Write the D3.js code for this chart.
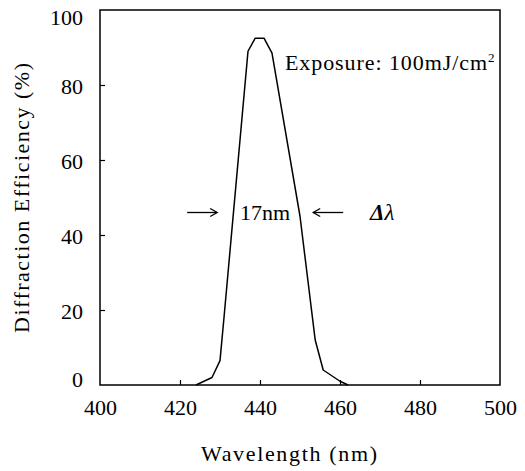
<!DOCTYPE html>
<html><head><meta charset="utf-8">
<script src="https://cdn.jsdelivr.net/npm/d3@7"></script>
<style>
body{margin:0;background:#fff;}
svg text{font-family:"Liberation Serif","DejaVu Serif",serif !important;fill:#000;}
</style></head>
<body><svg id="c" width="525" height="471"></svg>
<script>
const wavelength = [424, 428, 430, 431, 437, 438.8, 441, 443, 450, 453.8, 455.8, 460, 462];
const efficiency = [0, 2, 6.5, 18, 89, 92.5, 92.5, 88.5, 45, 12, 4, 1, 0];
const xTicks = [400, 420, 440, 460, 480, 500];
const yTicks = [0, 20, 40, 60, 80, 100];
const xTitle = "Wavelength (nm)";
const yTitle = "Diffraction Efficiency (%)";
const noteText = "Exposure:  100mJ/cm";
const widthText = "17nm";

const svg = d3.select("#c");
const L = 100, R = 500, T = 10, B = 385;
const x = d3.scaleLinear().domain([400, 500]).range([L, R]);
const y = d3.scaleLinear().domain([0, 100]).range([B, T]);

// frame
svg.append("rect").attr("x", L).attr("y", T).attr("width", R - L).attr("height", B - T)
  .attr("fill", "none").attr("stroke", "#000").attr("stroke-width", 1.5);

// x axis
const gx = svg.append("g").attr("transform", `translate(0,${B})`)
  .call(d3.axisBottom(x).tickValues(xTicks).tickSizeInner(-5).tickSizeOuter(0).tickPadding(14).tickFormat(d3.format("d")));
gx.select(".domain").remove();
gx.selectAll(".tick line").attr("stroke-width", 1.2).filter(d => d === 400 || d === 500).remove();
gx.selectAll(".tick text").attr("font-size", 22).attr("fill", "#000");

// y axis
const gy = svg.append("g").attr("transform", `translate(${L},0)`)
  .call(d3.axisLeft(y).tickValues(yTicks).tickSizeInner(-5).tickSizeOuter(0).tickPadding(17).tickFormat(d3.format("d")));
gy.select(".domain").remove();
gy.selectAll(".tick line").attr("stroke-width", 1.2).filter(d => d === 0 || d === 100).remove();
gy.selectAll(".tick text").attr("font-size", 22).attr("fill", "#000")
  .attr("dy", d => d === 100 ? "0.65em" : d === 0 ? "0.05em" : "0.4em");

// curve
const pts = wavelength.map((w, i) => [w, efficiency[i]]);
svg.append("path").datum(pts)
  .attr("d", d3.line().x(d => x(d[0])).y(d => y(d[1])))
  .attr("fill", "none").attr("stroke", "#000").attr("stroke-width", 1.5).attr("stroke-linejoin", "round");

// titles
svg.append("text").attr("x", 289).attr("y", 461).attr("text-anchor", "middle")
  .attr("font-size", 22).attr("textLength", 176).attr("lengthAdjust", "spacing").text(xTitle);
svg.append("text").attr("transform", "translate(29,198) rotate(-90)").attr("text-anchor", "middle")
  .attr("font-size", 22).attr("textLength", 270).attr("lengthAdjust", "spacing").text(yTitle);

// exposure note
const note = svg.append("text").attr("x", 285).attr("y", 70).attr("font-size", 22);
note.append("tspan").attr("textLength", 202).attr("lengthAdjust", "spacing").text(noteText);
note.append("tspan").attr("dy", -8).attr("font-size", 13).text("2");

// width annotation
const ay = y(46);
svg.append("text").attr("x", x(435.0)).attr("y", ay + 7).attr("font-size", 22).text(widthText);
function arrow(x1, x2) {
  svg.append("line").attr("x1", x1).attr("x2", x2).attr("y1", ay).attr("y2", ay)
    .attr("stroke", "#000").attr("stroke-width", 1.3);
  const s = Math.sign(x2 - x1);
  svg.append("path").attr("d", `M${x2 - s * 7},${ay - 4} L${x2},${ay} L${x2 - s * 7},${ay + 4}`)
    .attr("fill", "none").attr("stroke", "#000").attr("stroke-width", 1.3);
}
arrow(x(421.8), x(429.3));
arrow(x(460.8), x(453.3));
const dl = svg.append("text").attr("x", x(467.5)).attr("y", ay + 7).attr("font-size", 23).attr("font-style", "italic");
dl.append("tspan").attr("font-weight", "bold").text("Δ");
dl.append("tspan").text("λ");
</script></body></html>
